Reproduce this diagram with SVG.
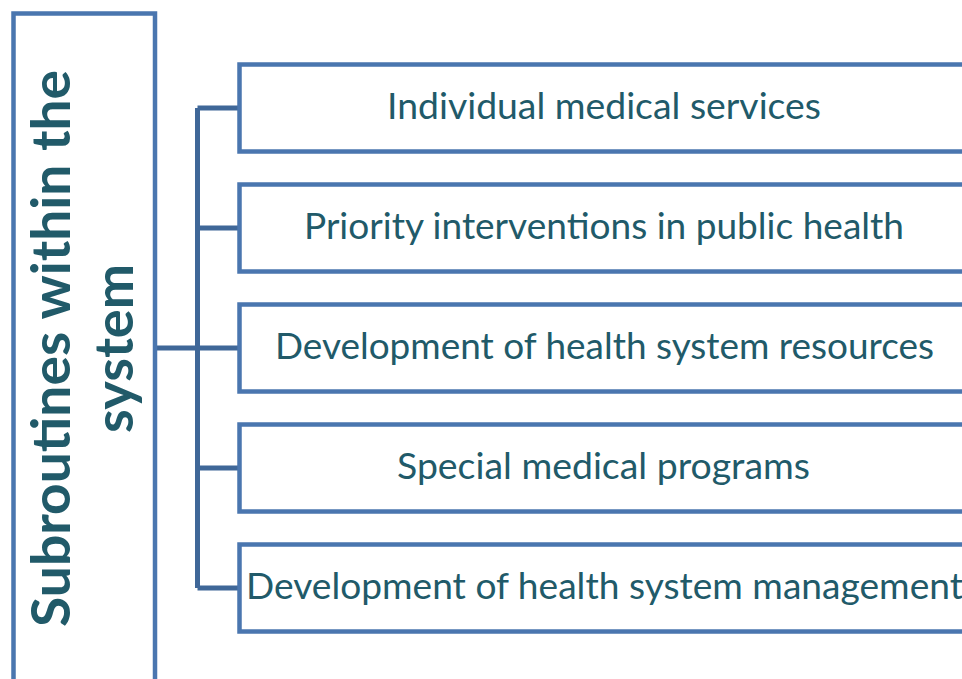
<svg xmlns="http://www.w3.org/2000/svg" width="962" height="679" viewBox="0 0 962 679">
<style>
.box{fill:#fff;stroke:#4A76AF;stroke-width:4.5}
.lbl{font-family:Lato,"Liberation Sans",sans-serif;font-size:37px;fill:#215A69;text-anchor:middle}
.vt{font-family:Lato,"Liberation Sans",sans-serif;font-size:53px;font-weight:bold;fill:#215A69;text-anchor:middle}
.conn{fill:none;stroke:#3F6798;stroke-width:5;stroke-linejoin:miter}
</style>
<rect width="962" height="679" fill="#fff"/>
<g id="connectors">
<path class="conn" d="M157 348H197.5M197.5 108V588M197.5 108H239.5M197.5 228H239.5M197.5 348H239.5M197.5 468H239.5M197.5 588H239.5"/>
</g>
<g id="main">
<rect class="box" x="13.5" y="13.5" width="141.5" height="700"/>
<text class="vt" transform="translate(70,348.5) rotate(-90)" textLength="557" lengthAdjust="spacingAndGlyphs">Subroutines within the</text>
<text class="vt" transform="translate(133,348.5) rotate(-90)" textLength="169" lengthAdjust="spacingAndGlyphs">system</text>
</g>
<g id="n1"><rect class="box" x="239.5" y="64.5" width="740" height="87"/><text class="lbl" x="604" y="119" textLength="434" lengthAdjust="spacingAndGlyphs">Individual medical services</text></g>
<g id="n2"><rect class="box" x="239.5" y="184.5" width="740" height="87"/><text class="lbl" x="604" y="239" textLength="600" lengthAdjust="spacingAndGlyphs">Priority interventions in public health</text></g>
<g id="n3"><rect class="box" x="239.5" y="304.5" width="740" height="87"/><text class="lbl" x="604.5" y="359" textLength="659" lengthAdjust="spacingAndGlyphs">Development of health system resources</text></g>
<g id="n4"><rect class="box" x="239.5" y="424.5" width="740" height="87"/><text class="lbl" x="603.5" y="479" textLength="413" lengthAdjust="spacingAndGlyphs">Special medical programs</text></g>
<g id="n5"><rect class="box" x="239.5" y="544.5" width="740" height="87"/><text class="lbl" x="604.5" y="599" textLength="717" lengthAdjust="spacingAndGlyphs">Development of health system management</text></g>
</svg>
